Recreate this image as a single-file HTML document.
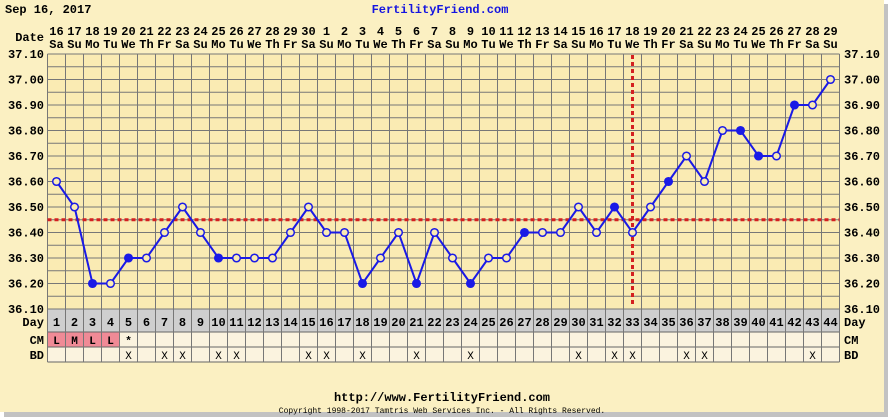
<!DOCTYPE html>
<html><head><meta charset="utf-8"><style>
html,body{margin:0;padding:0;background:#fff;}
svg{display:block;font-family:"Liberation Mono",monospace;font-weight:bold;}
</style></head><body>
<svg id="s" width="891" height="419" xmlns="http://www.w3.org/2000/svg"></svg>
<script>
const s=document.getElementById('s');
let h='';
const L=47.5,W=18,T=54,R=L+44*W,B=309,U=25.5;
h+='<rect x="4" y="4" width="884" height="413" fill="#999" opacity="0.6"/>';
h+='<rect x="0" y="0" width="884" height="412" fill="#FBF0C2"/>';
h+='<rect x="'+L+'" y="'+T+'" width="'+(44*W)+'" height="'+(B-T)+'" fill="#FAEBB3"/>';
h+='<rect x="'+L+'" y="'+B+'" width="'+(44*W)+'" height="23" fill="#CFCFCF"/>';
h+='<rect x="'+L+'" y="332" width="'+(44*W)+'" height="30" fill="#FBF3DF"/>';
for(let i=1;i<=4;i++)h+='<rect x="'+(L+(i-1)*W)+'" y="332" width="'+W+'" height="15" fill="#F08A96"/>';
// grid
for(let k=0;k<=20;k++){let y=T+k*U/2;h+='<line x1="'+L+'" x2="'+R+'" y1="'+y+'" y2="'+y+'" stroke="#777" stroke-width="1"/>';}
[332,347,362].forEach(y=>h+='<line x1="'+L+'" x2="'+R+'" y1="'+y+'" y2="'+y+'" stroke="#666"/>');
for(let i=0;i<=44;i++){let x=L+i*W;h+='<line x1="'+x+'" x2="'+x+'" y1="'+T+'" y2="362" stroke="#777"/>';}
// labels
h+='<text x="5" y="13" font-size="12">Sep 16, 2017</text>';
h+='<text x="440" y="13" font-size="12" fill="#1515E0" text-anchor="middle">FertilityFriend.com</text>';
h+='<text x="44" y="41" font-size="12" text-anchor="end">Date</text>';
const dn=['Sa','Su','Mo','Tu','We','Th','Fr'];
for(let i=0;i<44;i++){let d=i<15?16+i:i-14;let x=L+i*W+W/2;
h+='<text x="'+x+'" y="35" font-size="12" text-anchor="middle">'+d+'</text>';
h+='<text x="'+x+'" y="48" font-size="12" text-anchor="middle">'+dn[i%7]+'</text>';
h+='<text x="'+x+'" y="326" font-size="12" text-anchor="middle">'+(i+1)+'</text>';}
for(let k=0;k<=10;k++){let v=(37.1-k*0.1).toFixed(2);let y=T+k*U+4;
h+='<text x="44" y="'+y+'" font-size="12" text-anchor="end">'+v+'</text>';
h+='<text x="844" y="'+y+'" font-size="12">'+v+'</text>';}
h+='<text x="44" y="326" font-size="12" text-anchor="end">Day</text><text x="844" y="326" font-size="12">Day</text>';
h+='<text x="44" y="344" font-size="12" text-anchor="end">CM</text><text x="844" y="344" font-size="12">CM</text>';
h+='<text x="44" y="359" font-size="12" text-anchor="end">BD</text><text x="844" y="359" font-size="12">BD</text>';
['L','M','L','L','*'].forEach((c,i)=>h+='<text x="'+(L+i*W+W/2)+'" y="344" font-size="11" text-anchor="middle">'+c+'</text>');
[5,7,8,10,11,15,16,18,21,24,30,32,33,36,37,43].forEach(d=>h+='<text x="'+(L+(d-1)*W+W/2)+'" y="359" font-size="11" font-weight="normal" text-anchor="middle">X</text>');
// coverline & ovulation
const ty=t=>T+(37.1-t)*U*10;
h+='<line x1="'+L+'" x2="'+R+'" y1="'+ty(36.45)+'" y2="'+ty(36.45)+'" stroke="#D42020" stroke-width="3" stroke-dasharray="4,3"/>';
let ox=L+32*W+W/2;
h+='<line x1="'+ox+'" x2="'+ox+'" y1="55" y2="306" stroke="#D42020" stroke-width="3" stroke-dasharray="4,3"/>';
const t=[36.6,36.5,36.2,36.2,36.3,36.3,36.4,36.5,36.4,36.3,36.3,36.3,36.3,36.4,36.5,36.4,36.4,36.2,36.3,36.4,36.2,36.4,36.3,36.2,36.3,36.3,36.4,36.4,36.4,36.5,36.4,36.5,36.4,36.5,36.6,36.7,36.6,36.8,36.8,36.7,36.7,36.9,36.9,37.0];
const f=[3,5,10,18,21,24,27,32,35,39,40,42];
let p=t.map((v,i)=>(L+i*W+W/2)+','+ty(v)).join(' ');
h+='<polyline points="'+p+'" fill="none" stroke="#1A1AE6" stroke-width="2"/>';
t.forEach((v,i)=>{let fl=f.includes(i+1);h+='<circle cx="'+(L+i*W+W/2)+'" cy="'+ty(v)+'" r="3.8" fill="'+(fl?'#1A1AE6':'#FAEBB3')+'" stroke="#1A1AE6" stroke-width="1.5"/>';});
h+='<text x="442" y="401" font-size="12" text-anchor="middle">http://www.FertilityFriend.com</text>';
h+='<text x="442" y="413" font-size="8" font-weight="normal" text-anchor="middle">Copyright 1998-2017 Tamtris Web Services Inc. - All Rights Reserved.</text>';
s.innerHTML=h;
</script>
</body></html>
